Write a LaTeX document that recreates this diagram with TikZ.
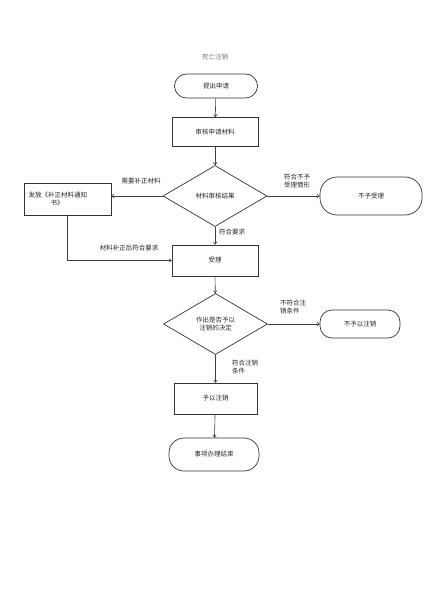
\documentclass[tikz,border=0pt]{standalone}
\usepackage{fontspec}
\newfontfamily\cjk{Noto Sans CJK SC}
\usetikzlibrary{shapes.geometric,arrows.meta}
\begin{document}
\begin{tikzpicture}[x=1pt,y=-1pt,
  every node/.style={font=\cjk\fontsize{6.5}{8}\selectfont, text=black!85},
  box/.style={draw=black!80, line width=0.7pt, minimum width=#1, minimum height=29pt, inner sep=1pt},
  box/.default=86pt,
  term/.style={draw=black!80, line width=0.7pt, rounded corners=12pt, inner sep=1pt},
  dec/.style={draw=black!80, line width=0.7pt, diamond, aspect=1.7, minimum width=104pt, minimum height=61pt, inner sep=0pt, align=center},
  lbl/.style={align=left, inner sep=1pt},
  conn/.style={draw=black!75, line width=0.6pt, -{To[length=3pt,width=4pt]}}
]
\useasboundingbox (0,0) rectangle (435,615);
\node[text=black!55] (title) at (215,57) {死亡注销};
\node[term, minimum width=83pt, minimum height=24pt] (submit) at (216,86) {提出申请};
\node[box] (review) at (215,132) {审核申请材料};
\node[dec] (d1) at (215,196) {材料审核结果};
\node[term, minimum width=102pt, minimum height=38pt, rounded corners=17pt] (reject) at (371,196) {不予受理};
\node[box=87pt, minimum height=32pt, align=left, text width=78pt] (notice) at (67.5,199) {发放《补正材料通知\\\hspace*{22pt}书》};
\node[box, minimum height=31pt] (accept) at (215,260.5) {受理};
\node[dec] (d2) at (215.5,324) {作出是否予以\\注销的决定};
\node[term, minimum width=80pt, minimum height=28pt] (noc) at (360,324) {不予以注销};
\node[box=83pt, minimum height=31pt] (cancel) at (215.5,398.5) {予以注销};
\node[term, minimum width=90pt, minimum height=33pt, rounded corners=15pt] (finish) at (214,454.5) {事项办理结束};
\coordinate (bend) at (notice.south |- accept.west);
\draw[conn] (submit) -- (review);
\draw[conn] (review) -- (d1);
\draw[conn] (d1.west) -- (d1.west -| notice.east);
\draw[conn] (d1.east) -- (reject.west);
\draw[conn] (d1.south) -- (accept.north);
\draw[conn] (notice.south) -- (bend) -- (accept.west);
\draw[conn] (accept) -- (d2);
\draw[conn] (d2.east) -- (noc.west);
\draw[conn] (d2.south) -- (cancel.north);
\draw[conn] (cancel) -- (finish);
\node[lbl] (l1) at (141,181) {需要补正材料};
\node[lbl] (l2) at (297,181) {符合不予\\受理情形};
\node[lbl] (l3) at (232,232) {符合要求};
\node[lbl] (l4) at (129,248) {材料补正后符合要求};
\node[lbl] (l5) at (293,307) {不符合注\\销条件};
\node[lbl] (l6) at (245,367) {符合注销\\条件};
\end{tikzpicture}
\end{document}
